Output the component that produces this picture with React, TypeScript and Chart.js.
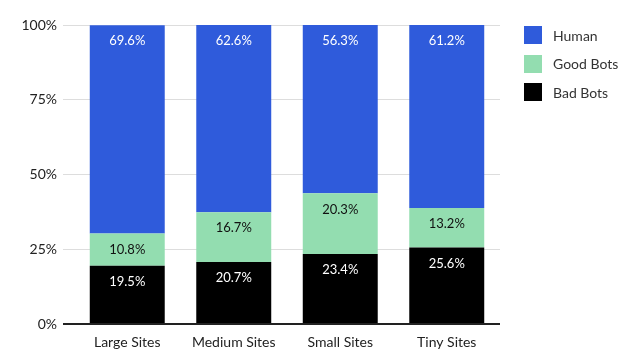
import React, { useEffect, useRef } from "react";
import { Chart, registerables } from "chart.js";

Chart.register(...registerables);

const categories = ["Large Sites", "Medium Sites", "Small Sites", "Tiny Sites"];
const humanValues = [69.6, 62.6, 56.3, 61.2];
const goodBotValues = [10.8, 16.7, 20.3, 13.2];
const badBotValues = [19.5, 20.7, 23.4, 25.6];
const yTicks = [0, 25, 50, 75, 100];

const BLUE = "#2f5bdb";
const GREEN = "#93ddb0";
const BLACK = "#000000";
const FONT = "Lato, 'Noto Sans', sans-serif";

const legendItems = [
  { label: "Human", color: BLUE },
  { label: "Good Bots", color: GREEN },
  { label: "Bad Bots", color: BLACK },
];

const valueLabelPlugin = {
  id: "valueLabels",
  afterDatasetsDraw(chart: any) {
    const ctx = chart.ctx;
    ctx.save();
    ctx.font = `13px ${FONT}`;
    ctx.textAlign = "center";
    ctx.textBaseline = "middle";
    chart.data.datasets.forEach((ds: any, di: number) => {
      const meta = chart.getDatasetMeta(di);
      meta.data.forEach((el: any, i: number) => {
        const v = ds.data[i];
        ctx.fillStyle = ds.labelColor;
        ctx.fillText(v.toFixed(1) + "%", el.x, el.y + 16);
      });
    });
    ctx.restore();
  },
};

export default function App() {
  const ref = useRef<HTMLCanvasElement | null>(null);
  useEffect(() => {
    if (!ref.current) return;
    const chart = new Chart(ref.current, {
      type: "bar",
      data: {
        labels: categories,
        datasets: [
          { label: "Bad Bots", data: badBotValues, backgroundColor: BLACK, labelColor: "#ffffff" } as any,
          { label: "Good Bots", data: goodBotValues, backgroundColor: GREEN, labelColor: "#111111" } as any,
          { label: "Human", data: humanValues, backgroundColor: BLUE, labelColor: "#ffffff" } as any,
        ],
      },
      options: {
        responsive: false,
        animation: false,
        layout: { padding: { left: 0, right: 140, top: 25, bottom: 0 } },
        plugins: { legend: { display: false }, tooltip: { enabled: false } },
        datasets: { bar: { categoryPercentage: 1, barPercentage: 0.704 } },
        scales: {
          x: {
            stacked: true,
            grid: { display: false, drawTicks: false },
            border: { display: false },
            ticks: { color: "#222", font: { family: FONT, size: 14 }, padding: 10 },
            afterFit: (s: any) => { s.height = 38; },
          },
          y: {
            stacked: true,
            min: 0,
            max: 100,
            afterBuildTicks: (s: any) => { s.ticks = yTicks.map((v) => ({ value: v })); },
            grid: {
              color: (c: any) => (c.tick && c.tick.value === 0 ? "#222222" : "#dddddd"),
              lineWidth: (c: any) => (c.tick && c.tick.value === 0 ? 2 : 1),
              tickLength: 11,
            },
            border: { display: false },
            ticks: {
              color: "#222",
              font: { family: FONT, size: 14 },
              padding: 6,
              callback: (v: any) => v + "%",
            },
            afterFit: (s: any) => { s.width = 74; },
          },
        },
      },
      plugins: [valueLabelPlugin],
    });
    return () => chart.destroy();
  }, []);

  return (
    <div style={{ position: "fixed", left: 0, top: 0, width: 640, height: 362, background: "#fff" }}>
      <canvas ref={ref} width={640} height={362} style={{ display: "block" }} />
      <div style={{ position: "absolute", left: 524, top: 26, fontFamily: FONT, fontSize: 14, color: "#333" }}>
        {legendItems.map((it) => (
          <div key={it.label} style={{ display: "flex", alignItems: "center", height: 18, marginBottom: 10.5 }}>
            <span style={{ width: 18, height: 18, background: it.color, display: "inline-block", marginRight: 11 }} />
            <span>{it.label}</span>
          </div>
        ))}
      </div>
    </div>
  );
}
